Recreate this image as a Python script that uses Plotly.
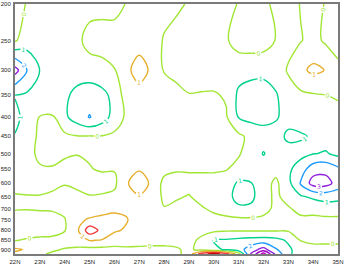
import numpy as np
import plotly.graph_objects as go

# latitude (deg N) and pressure levels (hPa)
lats = [22.0, 22.5, 23.0, 23.5, 24.0, 24.5, 25.0, 25.5, 26.0, 26.5, 27.0, 27.5, 28.0, 28.5,
        29.0, 29.5, 30.0, 30.5, 31.0, 31.5, 32.0, 32.5, 33.0, 33.5, 34.0, 34.5, 35.0]
levels = [200, 250, 300, 350, 400, 450, 500, 550, 600, 650, 700, 750, 800, 850, 900, 925]

# field values, one row per pressure level (west -> east)
z_200 = [0.5, -0.1, -0.6, -0.6, -0.5, -0.4, -0.3, -0.3, -0.3, 0.05, 0.4, 0.5, 0.4, 0.2, -0.1, -0.4, -0.4, -0.3, 0.05, 0.3, 0.2, -0.2, -0.4, 0.05, 0.3, -0.05, -0.3]
z_250 = [0.1, -0.5, -0.6, -0.6, -0.5, -0.2, 0.3, 0.4, 0.4, 0.5, 0.6, 0.6, -0.1, -0.4, -0.5, -0.5, -0.4, -0.1, 0.4, 0.6, 0.5, -0.05, -0.3, -0.05, 0.3, -0.15, -0.5]
z_300 = [-3.4, -1.95, -0.98, -0.7, -0.6, -0.5, -0.4, -0.3, -0.05, 0.8, 1.4, 0.83, -0.05, -0.2, -0.5, -0.6, -0.5, -0.4, -0.6, -0.8, -0.8, -0.5, 0.1, 0.8, 1.2, 0.97, 0.3]
z_350 = [-0.98, -0.85, -0.7, -0.6, -0.8, -1.3, -1.6, -1.3, -0.7, 0.5, 0.6, 0.5, 0.3, 0.2, 0.05, 0.1, 0.1, -0.1, -1.2, -1.3, -1.35, -1.1, -0.4, -0.2, -0.1, -0.02, 0.1]
z_400 = [-1.1, -0.85, 0.05, 0.1, -0.8, -1.5, -2.05, -1.5, -0.6, 0.2, 0.4, 0.4, 0.3, 0.3, 0.3, 0.3, 0.2, 0.1, -1.05, -1.3, -1.3, -1.1, -0.65, -0.6, -0.5, -0.4, -0.3]
z_450 = [-0.98, -0.5, 0.2, 0.3, 0.2, 0.05, 0.05, 0.05, 0.2, 0.3, 0.4, 0.4, 0.4, 0.4, 0.4, 0.4, 0.4, 0.3, 0.2, -0.25, -0.6, -0.6, -1.2, -1.1, -0.9, -0.5, -0.4]
z_500 = [-0.6, -0.3, 0.2, 0.2, 0.15, 0.05, 0.1, 0.3, 0.3, 0.4, 0.5, 0.4, 0.4, 0.4, 0.4, 0.4, 0.3, 0.2, 0.1, -0.5, -1.05, -0.6, -0.6, -0.7, -0.95, -1.1, -0.75]
z_550 = [-0.5, -0.5, -0.1, -0.05, -0.3, -0.4, -0.05, 0.1, 0.05, 0.5, 0.95, 0.6, 0.3, 0.1, 0.1, 0.1, 0.1, 0.05, -0.3, -0.5, -0.6, -0.3, -0.8, -1.5, -2.6, -2.7, -2.2]
z_600 = [-0.4, -0.4, -0.4, -0.3, -0.05, -0.2, -0.4, -0.4, -0.2, 0.95, 1.3, 0.9, -0.3, -0.4, -0.3, -0.3, -0.3, -0.5, -1.15, -1.05, -0.4, 0.2, -0.7, -2.1, -3.4, -3.4, -2.6]
z_650 = [0.1, 0.05, 0.05, 0.2, 0.3, 0.2, 0.05, 0.1, 0.2, 0.6, 0.95, 0.7, -0.2, -0.1, 0.05, -0.3, -0.4, -0.6, -1.4, -1.25, -0.4, 0.2, -0.4, -0.9, -1.2, -1.4, -1.3]
z_700 = [0.05, 0.05, 0.1, 0.1, 0.2, 0.4, 0.5, 0.7, 0.9, 0.85, 0.6, 0.4, 0.05, 0.2, 0.3, 0.1, -0.2, -0.4, -0.8, -0.8, -0.3, 0.2, 0.1, -0.3, -0.3, -0.5, -0.5]
z_750 = [-0.3, -0.4, -0.4, -0.3, -0.05, 0.8, 1.1, 1.2, 1.15, 1.05, 0.5, 0.3, 0.3, 0.3, 0.3, 0.3, 0.3, 0.2, 0.2, 0.2, 0.2, 0.2, 0.3, 0.2, 0.2, 0.2, 0.2]
z_800 = [-0.3, -0.4, -0.4, -0.3, -0.05, 0.8, 2.6, 1.7, 1.1, 0.9, 0.4, 0.3, 0.3, 0.3, 0.3, 0.3, 0.2, 0.1, 0.1, 0.1, 0.1, 0.1, 0.1, 0.3, 0.4, 0.4, 0.4]
z_850 = [-0.05, 0.1, 0.2, 0.2, 0.3, 0.6, 1.05, 0.95, 0.6, 0.5, 0.4, 0.3, 0.3, 0.3, 0.3, -0.2, -1.05, -1.1, -1.25, -1.35, -1.4, -1.3, -0.85, 0.05, 0.2, 0.2, 0.2]
z_900 = [1.15, 0.9, 0.2, 0.1, -0.05, -0.2, -0.3, -0.3, -0.3, -0.2, -0.2, -0.2, -0.2, -0.1, 0.2, -0.3, -0.8, -1.1, -1.6, -2.5, -3.4, -2.1, -1.2, -0.5, -0.3, -0.3, -0.3]
z_925 = [0.8, 0.5, 0.1, -0.1, -0.3, -0.4, -0.4, -0.4, -0.4, -0.3, -0.3, -0.3, -0.3, -0.3, 0.5, 2.5, 3.5, 2.5, 0.5, -3.1, -5.5, -2.8, -1.2, -0.5, -0.3, -0.3, -0.3]

x_tick_vals = [22, 23, 24, 25, 26, 27, 28, 29, 30, 31, 32, 33, 34, 35]
x_tick_text = ["22N", "23N", "24N", "25N", "26N", "27N", "28N", "29N", "30N", "31N", "32N", "33N", "34N", "35N"]
y_tick_vals = [200, 250, 300, 350, 400, 450, 500, 550, 600, 650, 700, 750, 800, 850, 900]
y_tick_text = ["200", "250", "300", "350", "400", "450", "500", "550", "600", "650", "700", "750", "800", "850", "900"]

# contour levels and their colours
pos_levels = [0, 1, 2, 3]
pos_colors = ["#a0e632", "#e6af2d", "#f03c3c", "#c80000"]
neg_levels = [1, 2, 3, 4, 5]           # magnitudes of negative contours
neg_colors = ["#00d28c", "#1e9bff", "#8c1edc", "#a000c8", "#c000c0"]

z = np.array([z_200, z_250, z_300, z_350, z_400, z_450, z_500, z_550, z_600, z_650,
              z_700, z_750, z_800, z_850, z_900, z_925])

fig = go.Figure()


def add_level(field, lvl, col):
    fig.add_trace(go.Contour(
        x=lats, y=levels, z=field,
        autocontour=False,
        contours=dict(start=lvl, end=lvl + 0.5, size=1, coloring="lines",
                      showlabels=True,
                      labelfont=dict(size=6, color=col, family="DejaVu Sans")),
        colorscale=[[0, col], [1, col]],
        showscale=False,
        line=dict(width=1.4, smoothing=1.0),
        hoverinfo="skip",
    ))


for lvl, col in zip(pos_levels, pos_colors):
    add_level(z, lvl, col)
for lvl, col in zip(neg_levels, neg_colors):
    add_level(-z, lvl, col)

axis_common = dict(showgrid=False, zeroline=False, showline=True, linecolor="#7a7a7a",
                   linewidth=2, mirror=True, ticks="", automargin=False,
                   ticklabelstandoff=1,
                   tickfont=dict(size=6, color="#222", family="Liberation Sans"))

fig.update_layout(
    width=346, height=264,
    margin=dict(l=15, r=8, t=4, b=10, autoexpand=False),
    paper_bgcolor="white", plot_bgcolor="white",
    showlegend=False,
    xaxis=dict(range=[22, 35], tickvals=x_tick_vals, ticktext=x_tick_text, **axis_common),
    yaxis=dict(type="log", range=[np.log10(925), np.log10(200)],
               tickvals=y_tick_vals, ticktext=y_tick_text, **axis_common),
)

fig.write_html("out.html", config={"displayModeBar": False},
               post_script="document.body.style.margin='0px';")
